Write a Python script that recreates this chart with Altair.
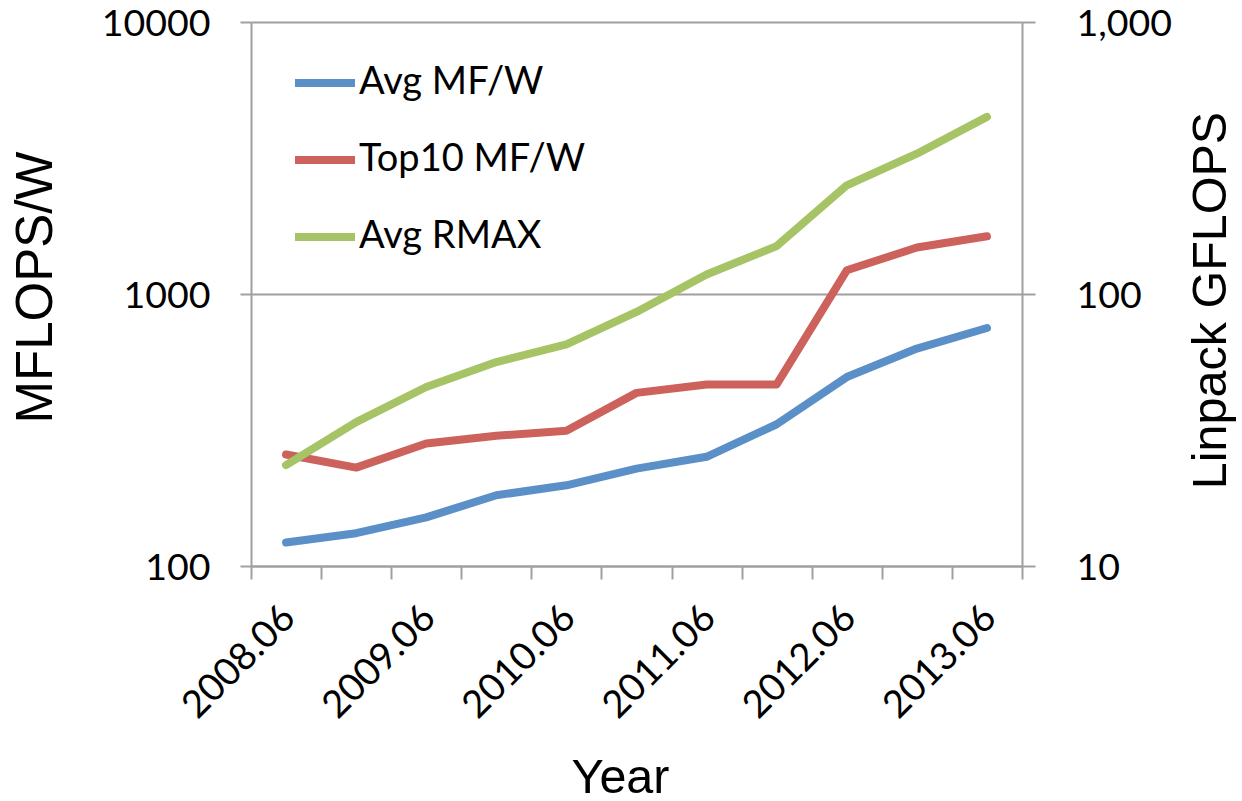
import altair as alt
import pandas as pd

# TOP500 energy-efficiency trend, June 2008 - June 2013
periods = ["2008.06", "2008.11", "2009.06", "2009.11", "2010.06", "2010.11",
           "2011.06", "2011.11", "2012.06", "2012.11", "2013.06"]
avg_mfw = [122, 132, 151, 182, 198, 228, 252, 332, 495, 630, 750]
top10_mfw = [257, 230, 282, 301, 314, 433, 465, 465, 1222, 1482, 1630]
avg_rmax = [23.5, 33.8, 45.5, 56.2, 65.3, 85.9, 118, 150, 251, 328, 448]

series_names = ["Avg MF/W", "Top10 MF/W", "Avg RMAX"]
series_colors = ["#5A8FC8", "#CC625B", "#A6C365"]

efficiency = pd.DataFrame({
    "period": periods * 2,
    "value": avg_mfw + top10_mfw,
    "series": [series_names[0]] * len(periods) + [series_names[1]] * len(periods),
})
rmax = pd.DataFrame({"period": periods, "value": avg_rmax, "series": series_names[2]})

AXIS_GRAY = "#A0A0A0"
LABEL_FONT = "Lato"
TITLE_FONT = "Liberation Sans"

x_enc = alt.X(
    "period:O", sort=periods, bandPosition=0.5,
    scale=alt.Scale(type="band", paddingInner=0, paddingOuter=0),
    axis=alt.Axis(
        title="Year", tickBand="extent", tickSize=13,
        labelAngle=315, labelAlign="right", labelBaseline="middle",
        labelExpr="indexof(datum.label, '.06') > 0 ? datum.label : ''",
        labelOverlap=False, labelPadding=33, labelOffset=3, labelFontSize=38,
        titleX=369, titleY=226, titleAlign="center", titleBaseline="alphabetic",
        titleFontSize=48.5,
    ),
)

color_enc = alt.Color(
    "series:N",
    scale=alt.Scale(domain=series_names, range=series_colors),
    legend=alt.Legend(
        title=None, orient="none", legendX=40, legendY=27, padding=0,
        symbolType="stroke", symbolSize=3600, symbolStrokeWidth=8,
        labelFont=LABEL_FONT, labelFontSize=38, labelColor="black",
        labelLimit=400, labelOffset=0, rowPadding=24,
    ),
)

line_style = dict(strokeWidth=8, strokeCap="round", strokeJoin="round")

left = alt.Chart(efficiency).mark_line(**line_style).encode(
    x=x_enc,
    y=alt.Y(
        "value:Q",
        scale=alt.Scale(type="log", domain=[100, 10000], nice=False),
        axis=alt.Axis(
            title="MFLOPS/W", values=[100, 1000, 10000], format="d",
            grid=True, tickSize=11, labelPadding=30, labelOffset=2,
            titleAngle=270, titleX=-200, titleY=265, titleFontSize=51,
            titleAlign="center", titleBaseline="alphabetic",
        ),
    ),
    color=color_enc,
)

right = alt.Chart(rmax).mark_line(**line_style).encode(
    x=x_enc,
    y=alt.Y(
        "value:Q",
        scale=alt.Scale(type="log", domain=[10, 1000], nice=False),
        axis=alt.Axis(
            title="Linpack GFLOPS", orient="right", values=[10, 100, 1000], format=",",
            grid=False, tickSize=13, labelPadding=41, labelOffset=2,
            titleAngle=270, titleX=203, titleY=278, titleFontSize=48.5,
            titleAlign="center", titleBaseline="alphabetic",
        ),
    ),
    color=color_enc,
)

chart = (
    alt.layer(left, right)
    .resolve_scale(y="independent")
    .properties(
        width=771, height=544,
        autosize=alt.AutoSizeParams(type="none"),
        padding={"left": 251, "top": 22, "right": 220, "bottom": 235},
    )
    .configure_axis(
        domainColor=AXIS_GRAY, domainWidth=2,
        tickColor=AXIS_GRAY, tickWidth=2,
        gridColor=AXIS_GRAY, gridWidth=2, gridOpacity=1,
        labelFont=LABEL_FONT, labelFontSize=37.5, labelColor="black",
        titleFont=TITLE_FONT, titleFontWeight="normal", titleColor="black",
    )
    .configure_view(stroke="transparent")
)

chart.save("out.html", embed_options={"renderer": "svg", "actions": False})
